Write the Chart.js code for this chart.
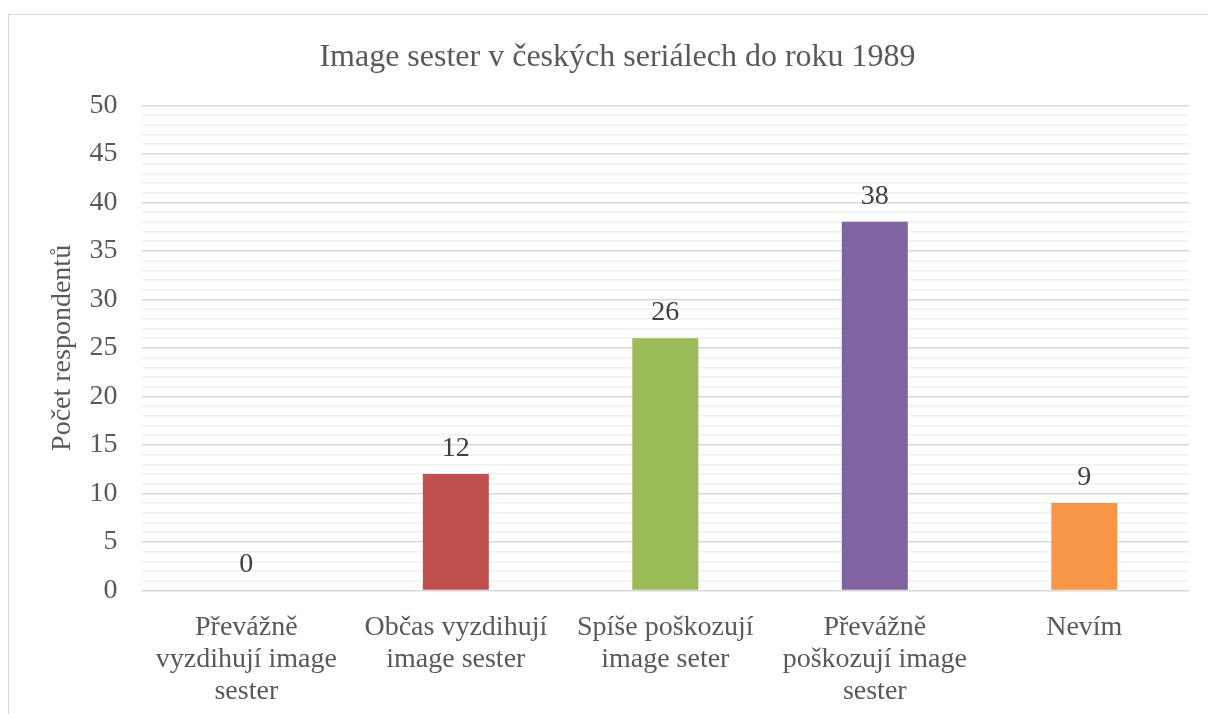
<!DOCTYPE html>
<html>
<head>
<meta charset="utf-8">
<script src="https://cdn.jsdelivr.net/npm/chart.js@4/dist/chart.umd.min.js"></script>
<style>
html,body{margin:0;padding:0;background:#fff;width:1208px;height:714px;overflow:hidden;}
#frame{position:absolute;left:8px;top:14px;width:1300px;height:800px;border:1px solid #d9d9d9;}
#wrap{position:absolute;left:0;top:0;width:1208px;height:714px;}
</style>
</head>
<body>
<div id="frame"></div>
<div id="wrap"><canvas id="c" width="1208" height="714"></canvas></div>
<script>
const categories = [
  ["Převážně", "vyzdihují image", "sester"],
  ["Občas vyzdihují", "image sester"],
  ["Spíše poškozují", "image seter"],
  ["Převážně", "poškozují image", "sester"],
  ["Nevím"]
];
const values = [0, 12, 26, 38, 9];
const barColors = ["#4F81BD", "#C0504D", "#9BBB59", "#8064A2", "#F79646"];
const yTickLabels = [0, 5, 10, 15, 20, 25, 30, 35, 40, 45, 50];
const chartTitle = "Image sester v českých seriálech do roku 1989";
const yTitle = "Počet respondentů";

const FONT = "'Liberation Serif', 'Times New Roman', serif";
const TXT = "#595959";

const valueLabels = {
  id: 'valueLabels',
  afterDatasetsDraw(chart) {
    const ctx = chart.ctx;
    const meta = chart.getDatasetMeta(0);
    ctx.save();
    ctx.font = "28px " + FONT;
    ctx.fillStyle = "#404040";
    ctx.textAlign = "center";
    ctx.textBaseline = "alphabetic";
    meta.data.forEach((bar, i) => {
      ctx.fillText(String(values[i]), bar.x, bar.y - 18);
    });
    ctx.restore();
  }
};

new Chart(document.getElementById('c'), {
  type: 'bar',
  data: {
    labels: categories,
    datasets: [{
      data: values,
      backgroundColor: barColors,
      borderWidth: 0,
      categoryPercentage: 1.0,
      barPercentage: 0.315
    }]
  },
  options: {
    responsive: false,
    animation: false,
    layout: { padding: { left: 46, right: 19, top: 38, bottom: -7 } },
    plugins: {
      legend: { display: false },
      tooltip: { enabled: false },
      title: {
        display: true,
        text: chartTitle,
        color: TXT,
        font: { family: FONT, size: 32, weight: 'normal' },
        padding: { top: 0, bottom: 29 }
      }
    },
    scales: {
      x: {
        grid: { display: false },
        border: { display: false },
        ticks: {
          color: TXT,
          font: { family: FONT, size: 28, lineHeight: 1.15 },
          maxRotation: 0,
          autoSkip: false,
          padding: 13
        }
      },
      y: {
        min: 0,
        max: 50,
        afterBuildTicks(scale) {
          const t = [];
          for (let v = 0; v <= 50; v++) t.push({ value: v });
          scale.ticks = t;
        },
        ticks: {
          color: TXT,
          font: { family: FONT, size: 28 },
          autoSkip: false,
          padding: 24,
          callback: (v) => yTickLabels.includes(v) ? String(v) : ''
        },
        grid: {
          drawTicks: false,
          color: (c) => (c.tick && c.tick.value % 5 === 0) ? '#d9d9d9' : '#f0f0f0',
          lineWidth: 1.5
        },
        border: { display: false },
        title: {
          display: true,
          text: yTitle,
          color: TXT,
          font: { family: FONT, size: 28 },
          padding: { top: 0, bottom: -14 }
        }
      }
    }
  },
  plugins: [valueLabels]
});
</script>
</body>
</html>
